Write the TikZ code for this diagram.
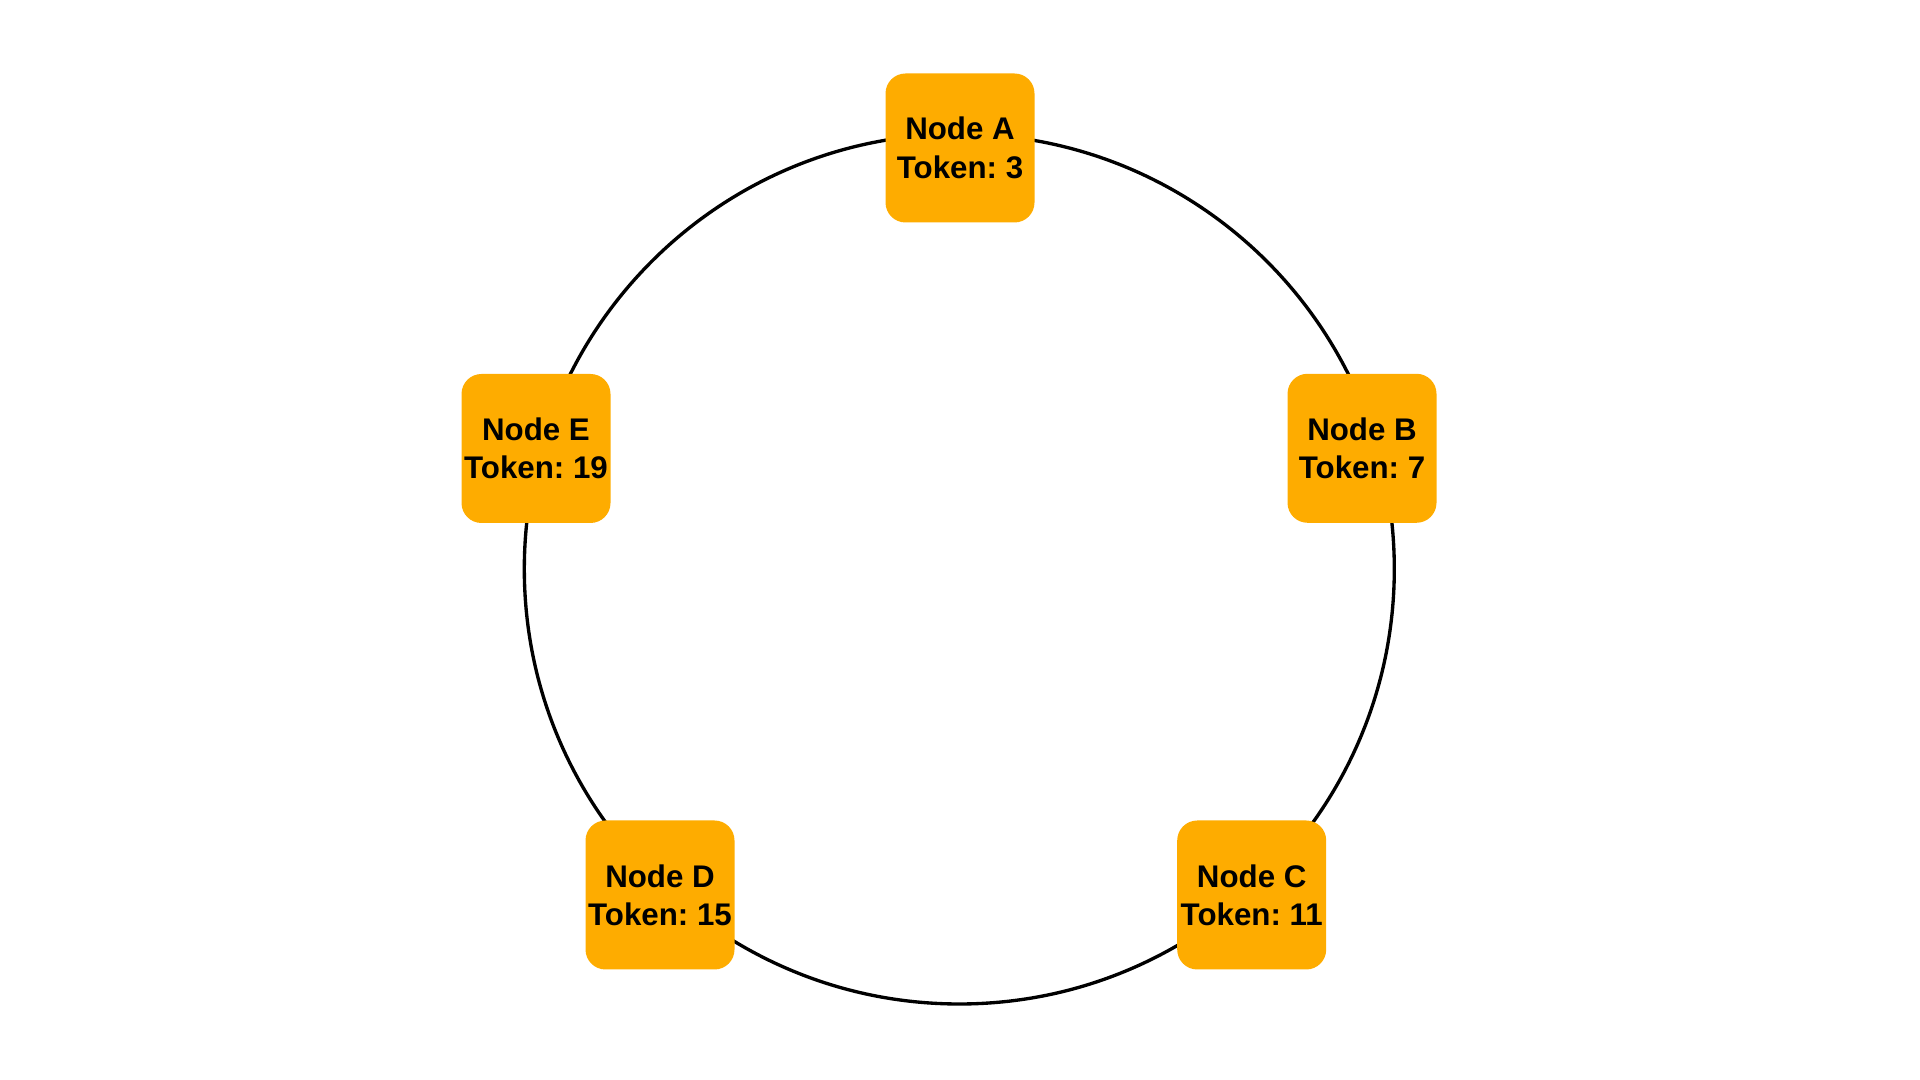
\documentclass[tikz,border=0pt]{standalone}
\usepackage{fontspec}
\setmainfont{Liberation Sans}
\usepackage{tikz}
\usepackage{xcolor}
\usetikzlibrary{positioning}

\definecolor{tokenorange}{RGB}{254,172,0}
\frenchspacing

\begin{document}
\begin{tikzpicture}[
    ring/.style={draw=black, line width=0.95pt},
    tokenbox/.style={rectangle, rounded corners=0.2cm, fill=tokenorange, minimum width=1.49cm, minimum height=1.49cm, align=center, inner sep=0pt, font=\fontsize{8.9}{10.9}\selectfont\bfseries}
]
    \useasboundingbox (0,0) rectangle (19.2,10.8);

    % Ring
    \coordinate (center) at (9.593,5.11);
    \draw[ring] (center) circle (4.35);

    % Nodes on the ring
    \node[tokenbox] (nodeA) at (9.60,9.32) {Node A\\Token: 3};
    \node[tokenbox] (nodeB) at (13.62,6.317) {Node B\\Token: 7};
    \node[tokenbox] (nodeC) at (12.517,1.85) {Node C\\Token: 11};
    \node[tokenbox] (nodeD) at (6.60,1.85) {Node D\\Token: 15};
    \node[tokenbox] (nodeE) at (5.36,6.315) {Node E\\Token: 19};
\end{tikzpicture}
\end{document}
